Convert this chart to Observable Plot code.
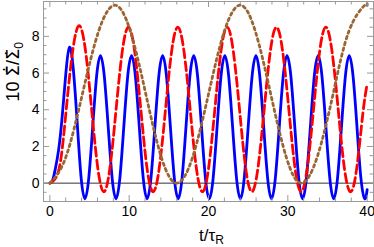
<!DOCTYPE html>
<html><head><meta charset="utf-8">
<script src="https://cdn.jsdelivr.net/npm/d3@7"></script>
<script src="https://cdn.jsdelivr.net/npm/@observablehq/plot@0.6"></script>
<style>html,body{margin:0;padding:0;background:#fff}svg{display:block}</style>
</head><body><div id="chart"></div>
<script>
// blue solid
const blueT = [0, 0.35, 0.7, 1.1, 1.55, 2.0, 2.47, 2.96, 3.45, 3.93,
  4.42, 4.91, 5.4, 5.89, 6.38, 6.87, 7.36, 7.85,
  8.34, 8.83, 9.32, 9.81, 10.3, 10.79, 11.28, 11.77,
  12.26, 12.75, 13.24, 13.73, 14.22, 14.71, 15.2, 15.69,
  16.18, 16.67, 17.16, 17.65, 18.14, 18.63, 19.12, 19.61,
  20.1, 20.59, 21.08, 21.57, 22.06, 22.55, 23.04, 23.53,
  24.02, 24.51, 25.0, 25.49, 25.98, 26.47, 26.96, 27.45,
  27.94, 28.43, 28.92, 29.41, 29.9, 30.39, 30.88, 31.37,
  31.86, 32.35, 32.84, 33.33, 33.82, 34.31, 34.8, 35.29,
  35.78, 36.27, 36.76, 37.25, 37.74, 38.23, 38.72, 39.21,
  39.7, 40];
const blueV = [0, 0.15, 0.8, 1.8, 3.6, 5.9, 7.4, 6.2, 3.3, 0.35,
  -0.85, 0.29, 3.05, 5.81, 6.95, 5.81, 3.05, 0.29,
  -0.85, 0.29, 3.05, 5.81, 6.95, 5.81, 3.05, 0.29,
  -0.85, 0.29, 3.05, 5.81, 6.95, 5.81, 3.05, 0.29,
  -0.85, 0.29, 3.05, 5.81, 6.95, 5.81, 3.05, 0.29,
  -0.85, 0.29, 3.05, 5.81, 6.95, 5.81, 3.05, 0.29,
  -0.85, 0.29, 3.05, 5.81, 6.95, 5.81, 3.05, 0.29,
  -0.85, 0.29, 3.05, 5.81, 6.95, 5.81, 3.05, 0.29,
  -0.85, 0.29, 3.05, 5.81, 6.95, 5.81, 3.05, 0.29,
  -0.85, 0.29, 3.05, 5.81, 6.95, 5.81, 3.05, 0.29,
  -0.85, -0.35];
// red dashed
const redT = [0, 0.6, 1.35, 2.13, 2.91, 3.69, 4.47, 5.25, 6.02,
  6.8, 7.58, 8.35, 9.13, 9.91, 10.69, 11.47, 12.24,
  13.02, 13.8, 14.58, 15.35, 16.13, 16.91, 17.69, 18.46,
  19.24, 20.02, 20.8, 21.57, 22.35, 23.13, 23.91, 24.68,
  25.46, 26.24, 27.02, 27.79, 28.57, 29.35, 30.13, 30.9,
  31.68, 32.46, 33.24, 34.01, 34.79, 35.57, 36.35, 37.12,
  37.9, 38.68, 39.46, 40];
const redV = [0, 0.2, 1.2, 4.3, 7.3, 8.58, 7.3, 4.1, 0.9,
  -0.47, 0.85, 4.02, 7.18, 8.5, 7.18, 4.02, 0.85,
  -0.47, 0.85, 4.02, 7.18, 8.5, 7.18, 4.02, 0.85,
  -0.47, 0.85, 4.02, 7.18, 8.5, 7.18, 4.02, 0.85,
  -0.47, 0.85, 4.02, 7.18, 8.5, 7.18, 4.02, 0.85,
  -0.47, 0.85, 4.02, 7.18, 8.5, 7.18, 4.02, 0.85,
  -0.47, 0.8, 3.8, 5.4];
// brown dotted
const brownT = [0, 2.0, 4.1, 6.15, 8.2, 10.15, 12.1, 14.05, 16.0, 18.0, 20.0, 22.0, 24.0,
  25.9, 27.85, 29.8, 31.7, 33.7, 35.7, 37.7, 39.7, 40];
const brownV = [0, 1.4, 4.85, 8.28, 9.7, 8.28, 4.85, 1.42, 0, 1.42, 4.85, 8.28, 9.7,
  8.28, 4.85, 1.42, 0, 1.42, 4.85, 8.28, 9.7, 9.69];

const xMajor = [0, 10, 20, 30, 40];
const xMinor = [2, 4, 6, 8, 12, 14, 16, 18, 22, 24, 26, 28, 32, 34, 36, 38];
const yMajor = [0, 2, 4, 6, 8];
const yMinor = [-0.5, 0.5, 1, 1.5, 2.5, 3, 3.5, 4.5, 5, 5.5, 6.5, 7, 7.5, 8.5, 9, 9.5];
const xLabel = "t/τR";
const yLabel = "10 Σ\u0304\u0307/Σ\u03070";

const rows = (T, V) => T.map((t, i) => ({t, v: V[i]}));

const W = 374, H = 247, mt = 1, mb = 46, ml = 43, mr = 1;
const ph = H - mt - mb, pw = W - ml - mr;
const tickCol = "#999";
const maj = 6, mnr = 3.5;

const chart = Plot.plot({
  width: W, height: H,
  marginTop: mt, marginBottom: mb, marginLeft: ml, marginRight: mr,
  style: {fontFamily: "'Liberation Sans', Arial, sans-serif", background: "#fff", color: "#000", overflow: "visible"},
  x: {domain: [-0.8, 40.8]},
  y: {domain: [-1.0, 9.9]},
  marks: [
    Plot.ruleY([0], {stroke: "#333", strokeWidth: 1}),
    Plot.line(rows(blueT, blueV), {x: "t", y: "v", curve: "natural", stroke: "#0000ff", strokeWidth: 2.8}),
    Plot.line(rows(redT, redV), {x: "t", y: "v", curve: "natural", stroke: "#ff0000", strokeWidth: 2.8, strokeDasharray: "9,4"}),
    Plot.line(rows(brownT, brownV), {x: "t", y: "v", curve: "natural", stroke: "#996633", strokeWidth: 2.8, strokeDasharray: "2.6,3.4"}),
    // inward ticks, all four sides
    Plot.tickX(xMajor, {x: d => d, insetTop: ph - maj, stroke: tickCol}),
    Plot.tickX(xMajor, {x: d => d, insetBottom: ph - maj, stroke: tickCol}),
    Plot.tickX(xMinor, {x: d => d, insetTop: ph - mnr, stroke: tickCol}),
    Plot.tickX(xMinor, {x: d => d, insetBottom: ph - mnr, stroke: tickCol}),
    Plot.tickY(yMajor, {y: d => d, insetRight: pw - maj, stroke: tickCol}),
    Plot.tickY(yMajor, {y: d => d, insetLeft: pw - maj, stroke: tickCol}),
    Plot.tickY(yMinor, {y: d => d, insetRight: pw - mnr, stroke: tickCol}),
    Plot.tickY(yMinor, {y: d => d, insetLeft: pw - mnr, stroke: tickCol}),
    Plot.frame({stroke: tickCol}),
    Plot.axisX(xMajor, {tickSize: 0, tickPadding: 5, fontSize: 14, label: null}),
    Plot.axisY(yMajor, {tickSize: 0, tickPadding: 4, fontSize: 14, label: null}),
    Plot.text([xLabel], {frameAnchor: "bottom", lineAnchor: "top", dy: 27, dx: 3, fontSize: 17}),
    Plot.text([yLabel], {frameAnchor: "left", rotate: -90, dx: -30, dy: 0, fontSize: 18})
  ]
});
document.getElementById("chart").appendChild(chart);

const svg = d3.select(chart);
svg.selectAll("text").filter(function () { return this.textContent === xLabel; }).each(function () {
  const el = d3.select(this);
  el.text(null);
  el.append("tspan").text("t/τ");
  el.append("tspan").attr("dy", "0.25em").attr("font-size", "12").text("R");
});
svg.selectAll("text").filter(function () { return this.textContent === yLabel; }).each(function () {
  const el = d3.select(this);
  el.text(null);
  el.append("tspan").text("10 ");
  el.append("tspan").attr("font-family", "'DejaVu Sans'").text("Σ\u0304\u0307");
  el.append("tspan").text("/");
  el.append("tspan").attr("font-family", "'DejaVu Sans'").text("Σ\u0307");
  el.append("tspan").attr("dy", "0.3em").attr("font-size", "12").text("0");
});
</script>
</body></html>
